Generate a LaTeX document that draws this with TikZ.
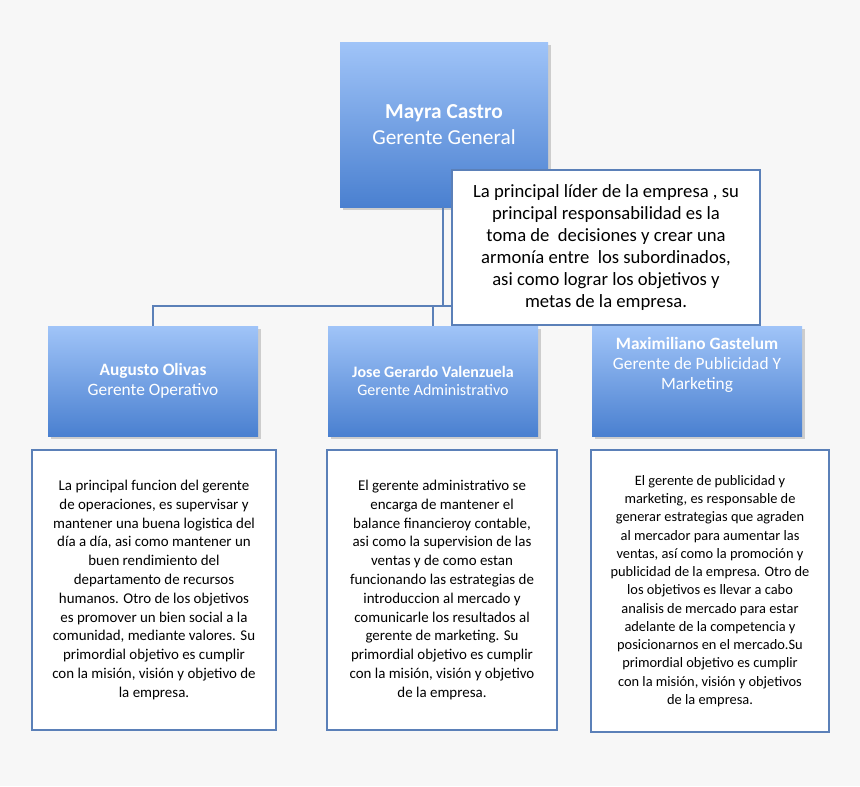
\documentclass[tikz,border=0pt]{standalone}
\usepackage{fontspec}
\setmainfont{Carlito}
\usetikzlibrary{shadows}
\begin{document}
\begin{tikzpicture}[x=0.75pt,y=-0.75pt,
  gbox/.style={draw=none,top color=blue1,bottom color=blue2,drop shadow={opacity=0.35,shadow xshift=2pt,shadow yshift=-2pt},text=white,align=center,inner sep=0},
  tbox/.style={draw=lineblue,line width=0.8pt,fill=white,align=center,inner sep=0},
  conn/.style={draw=lineblue,line width=1pt}]
\definecolor{blue1}{HTML}{A0C4F8}
\definecolor{blue2}{HTML}{4A80D0}
\definecolor{lineblue}{HTML}{5B80B8}
\fill[fill={rgb,255:red,247;green,247;blue,247}] (0,0) rectangle (860,786);
\useasboundingbox (0,0) rectangle (860,786);
% connectors
\coordinate (j1) at (443,306);
\coordinate (j2) at (153,306);
\coordinate (j3) at (433,306);
\coordinate (j4) at (700,306);
\node[gbox,minimum width=208*0.75pt,minimum height=165*0.75pt,font=\fontsize{16}{19}\selectfont] (top) at (444,124.5) {\textbf{Mayra Castro}\\Gerente General};
\node[gbox,minimum width=210*0.75pt,minimum height=110*0.75pt,font=\fontsize{13}{15}\selectfont] (a) at (153,381) {\textbf{Augusto Olivas}\\Gerente Operativo};
\node[gbox,minimum width=210*0.75pt,minimum height=110*0.75pt,font=\fontsize{12}{14}\selectfont] (b) at (433,381) {\textbf{Jose Gerardo Valenzuela}\\Gerente Administrativo};
\node[gbox,minimum width=210*0.75pt,minimum height=110*0.75pt,font=\fontsize{13}{15}\selectfont] (c) at (697,381) {\textbf{Maximiliano Gastelum}\\Gerente de Publicidad Y\\Marketing\\[12pt]};
\draw[conn] (top.south -| j1) -- (j1) -- (j2) -- (a.north);
\draw[conn] (j3) -- (b.north);
\draw[conn] (j1) -- (j4);
\node[tbox,minimum width=308*0.75pt,minimum height=155*0.75pt,font=\fontsize{14}{16.5}\selectfont] (desc) at (606,247.5) {La principal líder de la empresa , su\\principal responsabilidad es la\\toma de\ \ decisiones y crear una\\armonía entre\ \ los subordinados,\\asi como lograr los objetivos y\\metas de la empresa.};
\node[tbox,minimum width=244*0.75pt,minimum height=280*0.75pt,font=\fontsize{11.2}{14.1}\selectfont] (da) at (154,590) {La principal funcion del gerente\\de operaciones, es supervisar y\\mantener una buena logistica del\\día a día, asi como mantener un\\buen rendimiento del\\departamento de recursos\\humanos. Otro de los objetivos\\es promover un bien social a la\\comunidad, mediante valores. Su\\primordial objetivo es cumplir\\con la misión, visión y objetivo de\\la empresa.};
\node[tbox,minimum width=230*0.75pt,minimum height=280*0.75pt,font=\fontsize{11.2}{14.1}\selectfont] (db) at (442,590) {El gerente administrativo se\\encarga de mantener el\\balance financieroy contable,\\asi como la supervision de las\\ventas y de como estan\\funcionando las estrategias de\\introduccion al mercado y\\comunicarle los resultados al\\gerente de marketing. Su\\primordial objetivo es cumplir\\con la misión, visión y objetivo\\de la empresa.};
\node[tbox,minimum width=238*0.75pt,minimum height=282*0.75pt,font=\fontsize{10.8}{13.7}\selectfont] (dc) at (710,591) {El gerente de publicidad y\\marketing, es responsable de\\generar estrategias que agraden\\al mercador para aumentar las\\ventas, así como la promoción y\\publicidad de la empresa. Otro de\\los objetivos es llevar a cabo\\analisis de mercado para estar\\adelante de la competencia y\\posicionarnos en el mercado.Su\\primordial objetivo es cumplir\\con la misión, visión y objetivos\\de la empresa.};
\end{tikzpicture}
\end{document}
